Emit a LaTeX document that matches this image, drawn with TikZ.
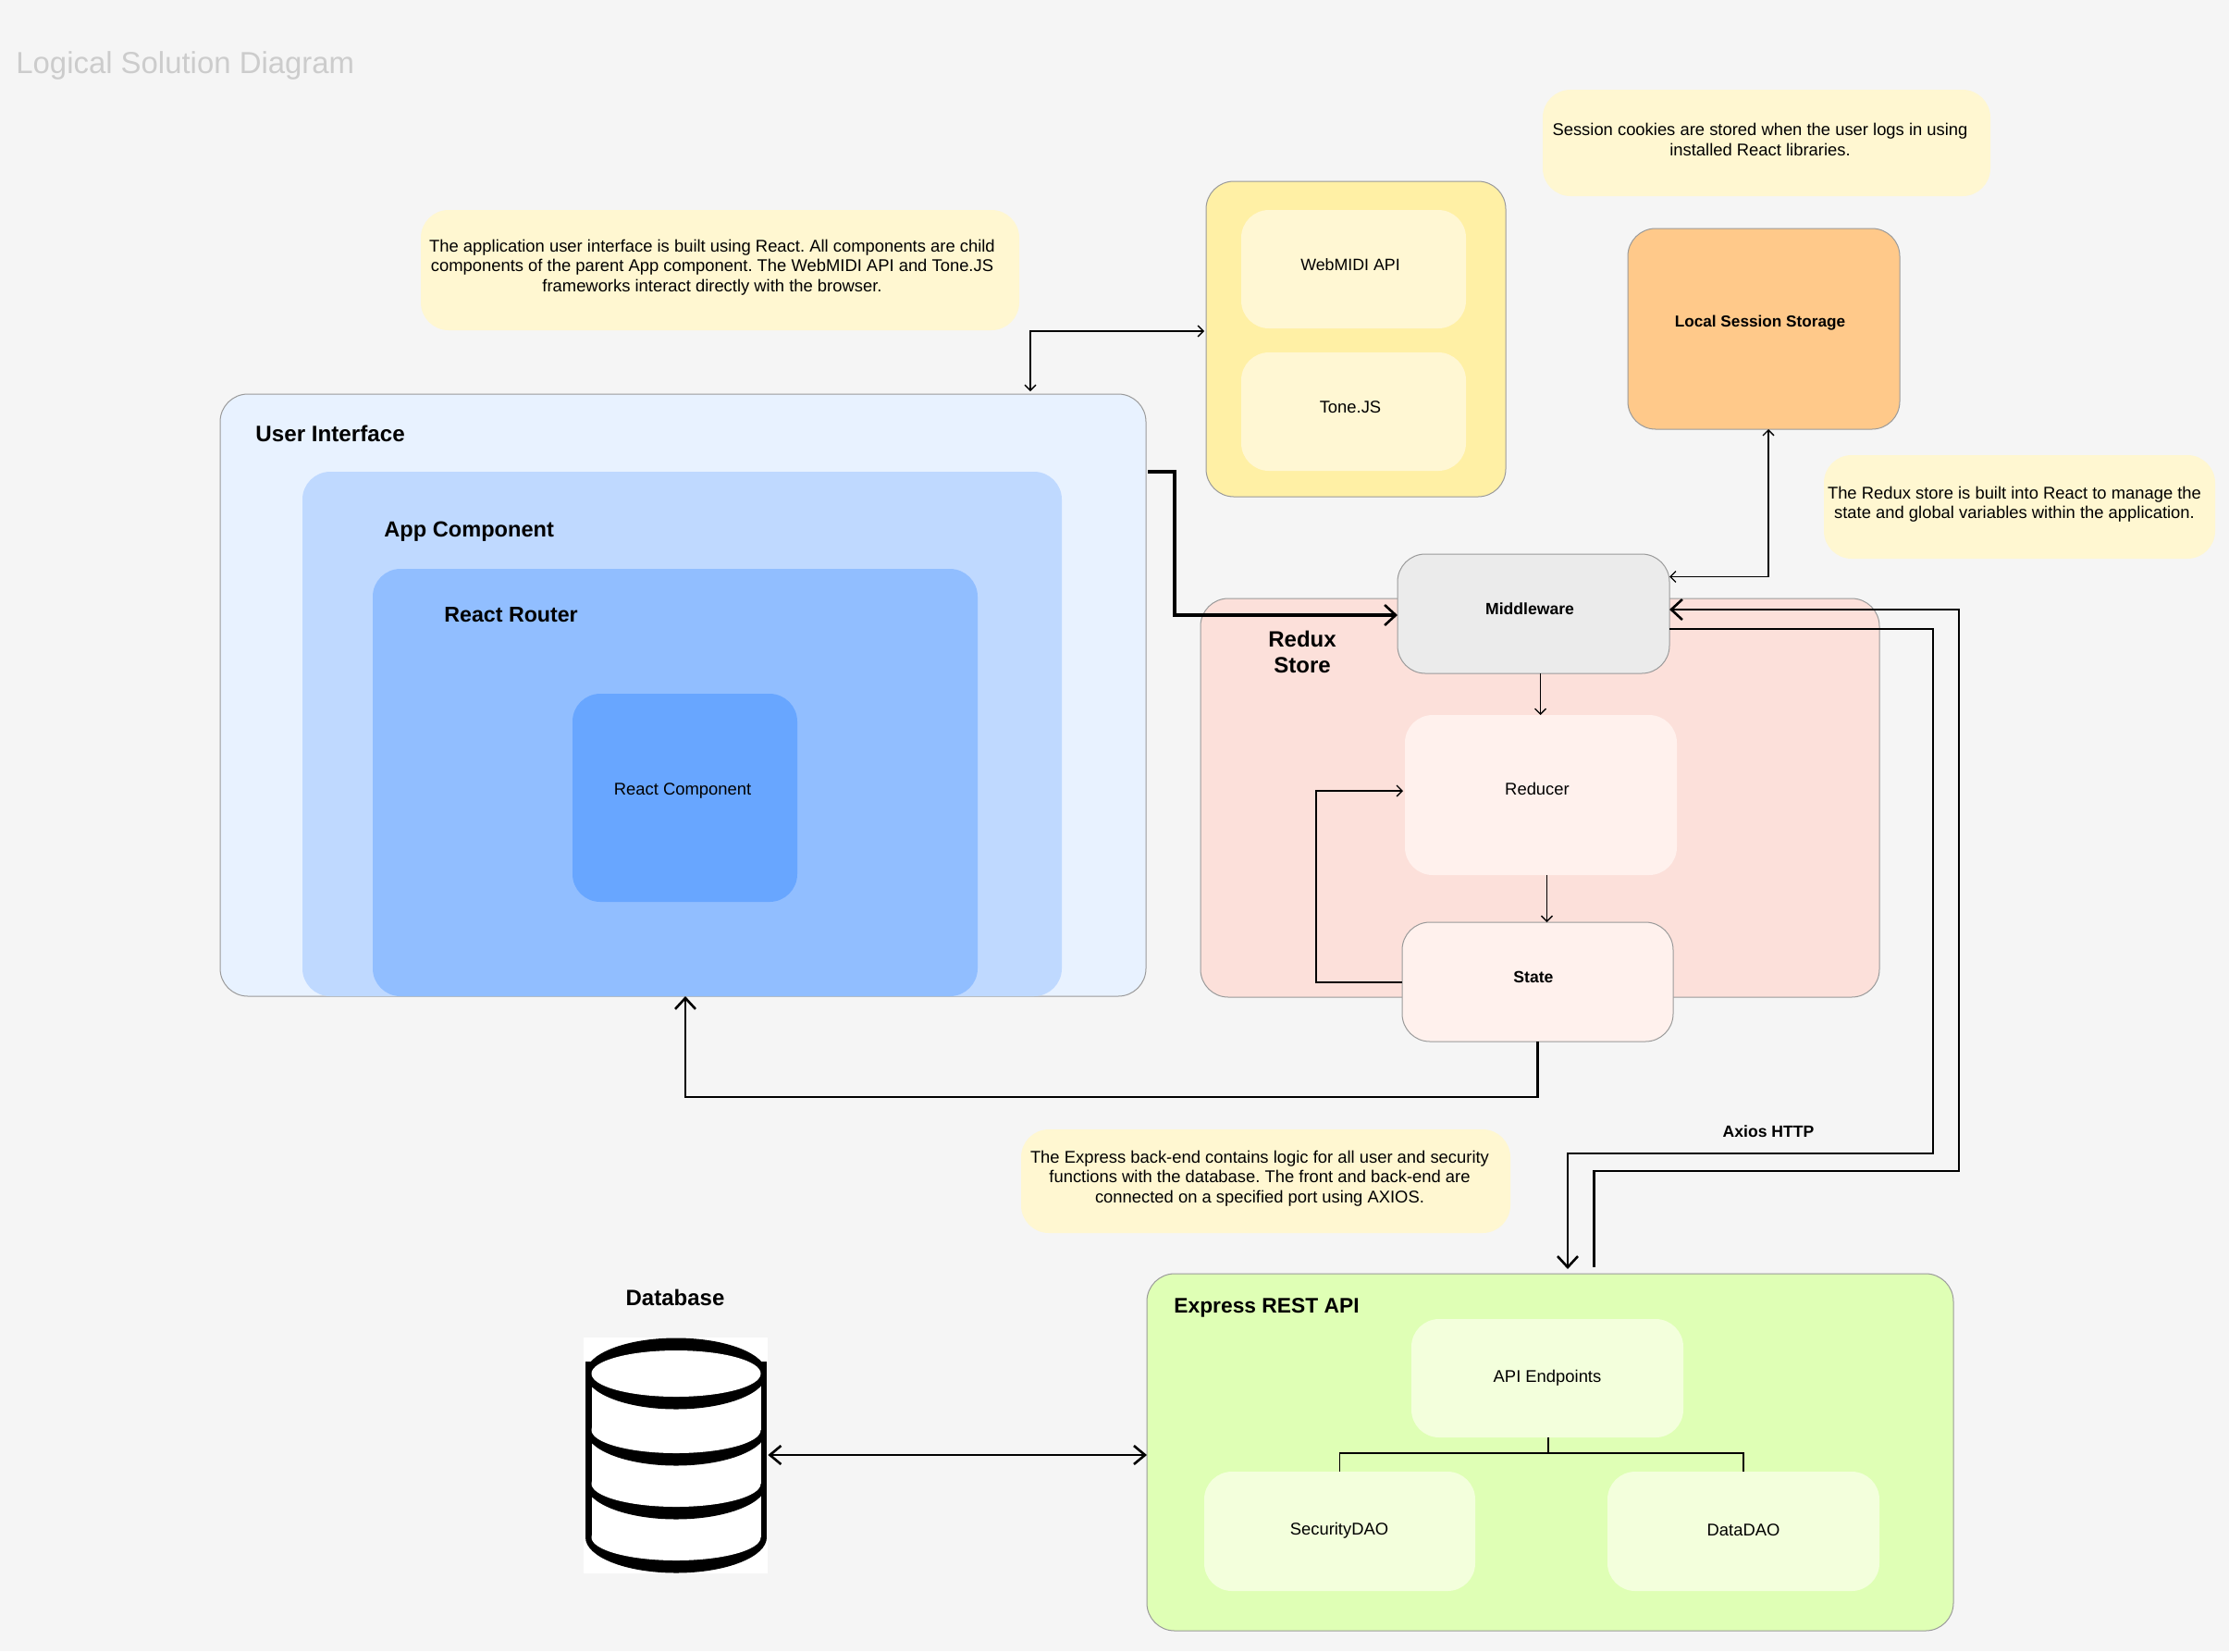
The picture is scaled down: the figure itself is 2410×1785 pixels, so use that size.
\documentclass[tikz,border=0pt]{standalone}
\usepackage{fontspec}
\setmainfont{Liberation Sans}
\usetikzlibrary{arrows.meta}
\definecolor{bgc}{HTML}{F5F5F5}
\definecolor{uic}{HTML}{E8F2FF}
\definecolor{appc}{HTML}{BFD9FF}
\definecolor{routerc}{HTML}{91BEFF}
\definecolor{rcc}{HTML}{68A6FF}
\definecolor{ylwc}{HTML}{FFF0A5}
\definecolor{ylwi}{HTML}{FFF7D3}
\definecolor{notec}{HTML}{FFF7D1}
\definecolor{localc}{HTML}{FFC98A}
\definecolor{reduxc}{HTML}{FCE0DA}
\definecolor{statec}{HTML}{FFF1ED}
\definecolor{midc}{HTML}{EBEBEB}
\definecolor{expc}{HTML}{DFFFB5}
\definecolor{expi}{HTML}{F3FFDC}
\definecolor{edge}{HTML}{9A9A9A}
\newcommand{\bx}[6]{%
  \pgfmathsetmacro{\bxcx}{(#3+#5)/2}\pgfmathsetmacro{\bxcy}{(#4+#6)/2}%
  \pgfmathsetmacro{\bxw}{(#5-#3)*0.5}\pgfmathsetmacro{\bxh}{(#6-#4)*0.5}%
  \node[#2,minimum width=\bxw pt,minimum height=\bxh pt] (#1) at (\bxcx,\bxcy) {};}
\tikzset{
  x=0.5pt,y=-0.5pt,
  panel/.style={rectangle,inner sep=0pt,outer sep=0pt,rounded corners=15pt},
  lined/.style={panel,draw=edge,line width=0.5pt},
  bodytext/.style={font=\fontsize{9.2}{10.7}\selectfont,align=center,inner sep=0pt,text=black},
  headtext/.style={font=\fontsize{12}{13.7}\selectfont\bfseries,align=center,inner sep=0pt,text=black},
  smallbold/.style={font=\fontsize{8.8}{10.5}\selectfont\bfseries,align=center,inner sep=0pt,text=black},
  thin link/.style={draw=black,line width=0.65pt,-{Straight Barb[length=3pt,width=6pt]}},
  thin both/.style={draw=black,line width=0.65pt,{Straight Barb[length=3pt,width=6pt]}-{Straight Barb[length=3pt,width=6pt]}},
  thick link/.style={draw=black,line width=1.3pt,-{Straight Barb[length=6pt,width=11pt,line width=1.3pt]}},
  thick both/.style={draw=black,line width=1.3pt,{Straight Barb[length=6pt,width=10pt,line width=1.3pt]}-{Straight Barb[length=6pt,width=10pt,line width=1.3pt]}},
  plain thin/.style={draw=black,line width=0.65pt},
}
\begin{document}
\frenchspacing
\begin{tikzpicture}
\useasboundingbox (0,0) rectangle (2410,1785);
\fill[bgc] (0,0) rectangle (2410,1785);
\node[anchor=west,inner sep=0pt,text=black!20,font=\fontsize{16.45}{19}\selectfont] (title) at (17,71) {Logical Solution Diagram};
% User interface
\bx{ui}{lined,fill=uic}{238}{426}{1239}{1077}
\bx{app}{panel,fill=appc}{327}{510}{1148}{1077}
\bx{router}{panel,fill=routerc}{403}{615}{1057}{1077}
\bx{rc}{panel,fill=rcc}{619}{750}{862}{975}
\node[headtext,anchor=west,font=\fontsize{12.1}{13.7}\selectfont\bfseries] (uilabel) at (276,469) {User Interface};
\node[headtext,anchor=west,font=\fontsize{11.8}{13.7}\selectfont\bfseries] (applabel) at (415,575) {App Component};
\node[headtext,anchor=west,font=\fontsize{11.6}{13.7}\selectfont\bfseries] (routerlabel) at (480,665) {React Router};
\node[bodytext] (rclabel) at (738,855) {React Component};
% Browser libraries
\bx{libs}{lined,fill=ylwc}{1304}{196}{1628}{537}
\bx{midi}{panel,fill=ylwi}{1342}{227}{1585}{355}
\bx{tone}{panel,fill=ylwi}{1342}{381}{1585}{509}
\node[bodytext,font=\fontsize{8.9}{10.5}\selectfont] (midilabel) at (1460,286) {WebMIDI API};
\node[bodytext] (tonelabel) at (1460,440) {Tone.JS};
% Local storage
\bx{local}{lined,fill=localc}{1760}{247}{2054}{464}
\node[smallbold,font=\fontsize{8.6}{10.5}\selectfont\bfseries] (locallabel) at (1903,349) {Local Session Storage};
% Notes
\bx{notesession}{panel,fill=notec}{1668}{97}{2152}{212}
\node[bodytext] (notesessiontext) at (1903,151) {Session cookies are stored when the user logs in using\\installed React libraries.};
\bx{noteui}{panel,fill=notec}{455}{227}{1102}{357}
\node[bodytext] (noteuitext) at (770,289) {The application user interface is built using React. All components are child\\components of the parent App component. The WebMIDI API and Tone.JS\\frameworks interact directly with the browser.};
\bx{noteredux}{panel,fill=notec}{1972}{492}{2395}{604}
\node[bodytext] (notereduxtext) at (2178,545) {The Redux store is built into React to manage the\\state and global variables within the application.};
\bx{noteexp}{panel,fill=notec}{1104}{1221}{1633}{1333}
\node[bodytext] (noteexptext) at (1362,1274) {The Express back-end contains logic for all user and security\\functions with the database. The front and back-end are\\connected on a specified port using AXIOS.};
% Redux
\bx{redux}{lined,fill=reduxc}{1298}{647}{2032}{1078}
\node[headtext] (reduxlabel) at (1408,705) {Redux\\Store};
\bx{mid}{lined,fill=midc}{1511}{599}{1805}{728}
\bx{reducer}{panel,fill=statec}{1519}{773}{1813}{946}
\bx{state}{lined,fill=statec}{1516}{997}{1809}{1126}
\node[smallbold] (midlabel) at (1654,658) {Middleware};
\node[bodytext] (reducerlabel) at (1662,853) {Reducer};
\node[smallbold] (statelabel) at (1658,1056) {State};
% Express
\bx{exp}{lined,fill=expc}{1240}{1377}{2112}{1763}
\node[headtext,anchor=west,font=\fontsize{11.4}{13.7}\selectfont\bfseries] (explabel) at (1269,1414) {Express REST API};
\bx{api}{panel,fill=expi}{1526}{1426}{1820}{1554}
\bx{sec}{panel,fill=expi}{1302}{1591}{1595}{1720}
\bx{data}{panel,fill=expi}{1738}{1591}{2032}{1720}
\node[bodytext] (apilabel) at (1673,1490) {API Endpoints};
\node[bodytext] (seclabel) at (1448,1655) {SecurityDAO};
\node[bodytext] (datalabel) at (1885,1654) {DataDAO};
% Database
\node[headtext] (dblabel) at (730,1403) {Database};
\node[rectangle,fill=white,inner sep=0pt,minimum width=99.5pt,minimum height=127.5pt] (db) at (730.5,1573.5) {};
\fill[black] (633,1472) rectangle (829,1662);
\fill[black] (731,1662) ellipse [x radius=98,y radius=38.5];
\fill[white] (731,1662) ellipse [x radius=91.5,y radius=25];
\fill[white] (639.5,1604) rectangle (822.5,1662);
\fill[black] (731,1604) ellipse [x radius=98,y radius=38.5];
\fill[white] (731,1604) ellipse [x radius=91.5,y radius=25];
\fill[white] (639.5,1546) rectangle (822.5,1604);
\fill[black] (731,1546) ellipse [x radius=98,y radius=38.5];
\fill[white] (731,1546) ellipse [x radius=91.5,y radius=25];
\fill[white] (639.5,1485) rectangle (822.5,1546);
\fill[black] (731,1485) ellipse [x radius=98,y radius=38.5];
\fill[white] (731,1485) ellipse [x radius=91.5,y radius=25];
% Connectors
\coordinate (uiout) at (1241,510);
\draw[thick link,line width=1.7pt] (uiout) -- (1270,510) -- (1270,665) -- (mid.west |- 0,665);
\draw[thin link] (mid.south -| 1665.5,0) -- (reducer.north -| 1665.5,0);
\draw[thin link] (reducer.south -| 1672.5,0) -- (state.north -| 1672.5,0);
\draw[thin link] (state.west |- 0,1062) -- (1423,1062) -- (1423,855) -- ([xshift=-1pt]reducer.west |- 0,855);
\draw[thin both] (local.south -| 1912,0) -- (1912,623.5) -- (mid.east |- 0,623.5);
\draw[thin both] ([yshift=1.5pt]ui.north -| 1114,0) -- (1114,358) -- ([xshift=-1pt]libs.west |- 0,358);
\draw[thick link] (state.south -| 1662.5,0) -- (1662.5,1186) -- (741,1186) -- (router.south -| 741,0);
\coordinate (expout) at (1723.5,1370);
\draw[thick link] (expout) -- (1723.5,1266) -- (2118,1266) -- (2118,659) -- (mid.east |- 0,659);
\coordinate (expin) at (1695,1372);
\draw[thick link] (mid.east |- 0,680) -- (2090,680) -- (2090,1247) -- (1695,1247) -- (expin);
\draw[thick both] (db.east |- 0,1573) -- (exp.west |- 0,1573);
\draw[plain thin] (api.south -| 1674,0) -- (1674,1571);
\draw[plain thin] (sec.north) -- (1448.5,1571) -- (1885,1571) -- (data.north);
\node[smallbold] (axios) at (1912,1223) {Axios HTTP};
\end{tikzpicture}
\end{document}
